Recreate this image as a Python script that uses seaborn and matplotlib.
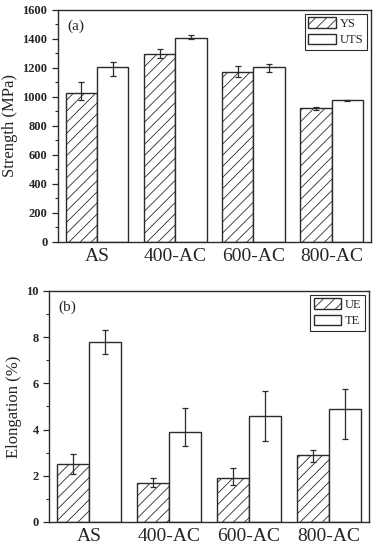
import matplotlib
matplotlib.use("Agg")
import matplotlib.pyplot as plt
import pandas as pd
import seaborn as sns
from matplotlib.ticker import MultipleLocator

SAMPLES = ["AS", "400-AC", "600-AC", "800-AC"]

YS = [1025, 1295, 1170, 921]
YS_ERR_LO = [45, 25, 30, 12]
YS_ERR_HI = [75, 33, 44, 12]
UTS = [1207, 1408, 1205, 977]
UTS_ERR_LO = [60, 12, 30, 5]
UTS_ERR_HI = [37, 16, 20, 5]

UE = [2.53, 1.68, 1.90, 2.89]
UE_ERR_LO = [0.45, 0.15, 0.30, 0.30]
UE_ERR_HI = [0.40, 0.22, 0.43, 0.21]
TE = [7.78, 3.88, 4.58, 4.88]
TE_ERR_LO = [0.50, 0.60, 1.08, 1.31]
TE_ERR_HI = [0.51, 1.04, 1.10, 0.86]

EDGE = "#2b2b2b"


def setup_style() -> None:
    sns.set_style("ticks")
    plt.rcParams["font.family"] = ["Liberation Serif", "DejaVu Serif"]
    plt.rcParams["hatch.linewidth"] = 0.6
    plt.rcParams["axes.linewidth"] = 1.0
    plt.rcParams["axes.edgecolor"] = EDGE


def draw_panel(ax, first, second, names, errs, ylim, major, ylabel, tag):
    df = pd.DataFrame({
        "Sample": SAMPLES * 2,
        "Value": first + second,
        "Type": [names[0]] * 4 + [names[1]] * 4,
    })
    sns.barplot(data=df, x="Sample", y="Value", hue="Type", palette=["white", "white"],
                edgecolor=EDGE, linewidth=1.0, width=0.8, saturation=1, legend=False, ax=ax)
    for patch in ax.containers[0]:
        patch.set_hatch("///")

    for container, vals, (lo, hi) in zip(ax.containers, [first, second], errs):
        xs = [p.get_x() + p.get_width() / 2 for p in container]
        ax.errorbar(xs, vals, yerr=[lo, hi], fmt="none", ecolor=EDGE,
                    elinewidth=0.9, capsize=2.5, capthick=0.9, zorder=5)

    ax.set_xlim(-0.5, 3.5)
    ax.set_ylim(*ylim)
    ax.yaxis.set_major_locator(MultipleLocator(major))
    ax.yaxis.set_minor_locator(MultipleLocator(major / 2))
    ax.tick_params(axis="y", which="major", direction="out", length=4, width=0.9,
                   labelsize=9)
    ax.tick_params(axis="y", which="minor", direction="out", length=2, width=0.8)
    ax.tick_params(axis="x", length=0, labelsize=14, pad=4)
    for lbl in ax.get_yticklabels():
        lbl.set_fontweight("bold")
    ax.set_xlabel("")
    ax.set_ylabel(ylabel, fontsize=12, labelpad=3)
    for side in ["top", "right", "left", "bottom"]:
        ax.spines[side].set_visible(True)
        ax.spines[side].set_color(EDGE)

    ax.text(0.03, 0.93, tag, transform=ax.transAxes, fontsize=11, va="center", ha="left")

    leg = ax.legend(ax.containers, names, loc="upper right", fontsize=9,
                    frameon=True, fancybox=False, edgecolor=EDGE, framealpha=1,
                    handlelength=2.2, handleheight=0.9, labelspacing=0.3,
                    handletextpad=0.3, borderpad=0.3, borderaxespad=0.3)
    leg.get_frame().set_linewidth(0.8)


def main() -> None:
    setup_style()
    fig = plt.figure(figsize=(3.78, 5.5), dpi=100)
    ax1 = fig.add_axes([0.153, 0.56, 0.828, 0.422])
    ax2 = fig.add_axes([0.130, 0.051, 0.846, 0.420])

    draw_panel(ax1, YS, UTS, ["YS", "UTS"],
               [(YS_ERR_LO, YS_ERR_HI), (UTS_ERR_LO, UTS_ERR_HI)],
               (0, 1600), 200, "Strength (MPa)", "(a)")
    draw_panel(ax2, UE, TE, ["UE", "TE"],
               [(UE_ERR_LO, UE_ERR_HI), (TE_ERR_LO, TE_ERR_HI)],
               (0, 10), 2, "Elongation (%)", "(b)")

    fig.savefig("out.png", dpi=100)
    plt.close(fig)


if __name__ == "__main__":
    main()
